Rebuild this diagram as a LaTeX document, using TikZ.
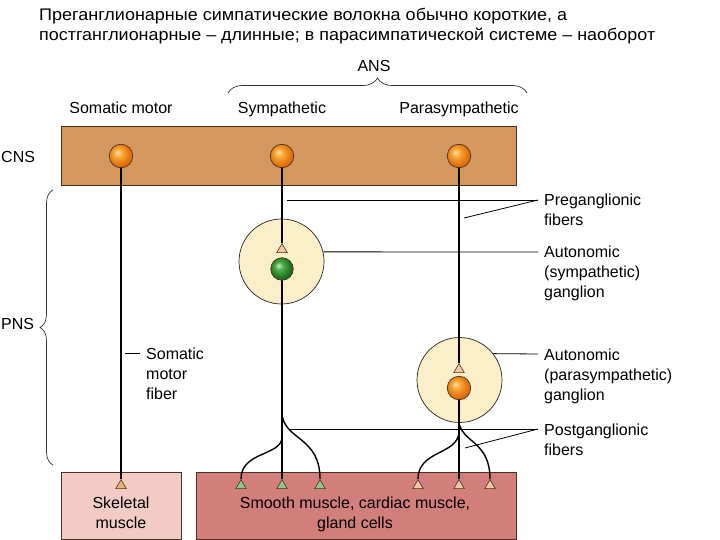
\documentclass[tikz,border=0pt]{standalone}
\usepackage{fontspec}
\setmainfont{Liberation Sans}
\usepackage{graphicx}
\usetikzlibrary{shapes.geometric,decorations.pathreplacing}
\pgfdeclarelayer{bg}
\pgfdeclarelayer{mid}
\pgfsetlayers{bg,mid,main}
\definecolor{cnsbox}{HTML}{D4975E}
\definecolor{skelbox}{HTML}{F2CBC5}
\definecolor{smoothbox}{HTML}{D27E7B}
\definecolor{gangfill}{HTML}{FBEFC9}
\definecolor{orA}{HTML}{FFE2A8}
\definecolor{orB}{HTML}{F8A83A}
\definecolor{orC}{HTML}{EC8418}
\definecolor{orD}{HTML}{D86E10}
\definecolor{grA}{HTML}{C8F0C0}
\definecolor{grB}{HTML}{4FAE4C}
\definecolor{grC}{HTML}{2C8A2C}
\definecolor{grD}{HTML}{1E6A1E}
\definecolor{tripeach}{HTML}{F4C8A0}
\definecolor{trigreen}{HTML}{8CC48A}
\definecolor{tritan}{HTML}{E8B46A}
\definecolor{edgec}{HTML}{4A3020}
\pgfdeclareradialshading{orball}{\pgfpoint{-8bp}{8bp}}{color(0bp)=(orA); color(9bp)=(orB); color(18bp)=(orC); color(25bp)=(orD); color(50bp)=(orD)}
\pgfdeclareradialshading{grball}{\pgfpoint{-8bp}{8bp}}{color(0bp)=(grA); color(9bp)=(grB); color(18bp)=(grC); color(25bp)=(grD); color(50bp)=(grD)}
\tikzset{
  lbl/.style={font=\fontsize{16}{20}\selectfont, inner sep=0pt, align=left, anchor=north west},
  clbl/.style={font=\fontsize{16}{20}\selectfont, inner sep=0pt, align=center, anchor=north},
  hdr/.style={font=\fontsize{16}{20}\selectfont, inner sep=0pt, anchor=base},
  ttl/.style={font=\fontsize{16.8}{17}\selectfont, inner sep=0pt, anchor=base west},
  neuron/.style={circle, draw=edgec, line width=0.7pt, minimum size=23.5pt, inner sep=0pt, shading=orball},
  gneuron/.style={neuron, minimum size=22.5pt, shading=grball},
  gang/.style={circle, draw=black!85, fill=gangfill, minimum size=85pt, inner sep=0pt, line width=0.7pt},
  term/.style={isosceles triangle, isosceles triangle apex angle=60, shape border rotate=90,
    draw=edgec, line width=0.6pt, minimum height=9pt, minimum width=10.5pt, inner sep=0pt,
    isosceles triangle stretches, anchor=apex},
  fiber/.style={line width=1.4pt, black},
  sfiber/.style={line width=1.7pt, black},
  lead/.style={line width=0.8pt, black},
  box/.style={draw=edgec, line width=0.8pt, anchor=north west, inner sep=0pt},
  bracec/.style={decorate, line width=0.7pt, black!80}
}
\begin{document}
\begin{tikzpicture}[x=1pt,y=-1pt]
\useasboundingbox (0,0) rectangle (720,540);

% title
\node[ttl] (t1) at (39,21) {\resizebox{528pt}{\height}{Преганглионарные симпатические волокна обычно короткие, а}};
\node[ttl] (t2) at (39,41) {\resizebox{616pt}{\height}{постганглионарные – длинные; в парасимпатической системе – наоборот}};

% headers
\node[hdr] (ans) at (374,72) {ANS};
\node[hdr] (hsom) at (121,114) {Somatic motor};
\node[hdr] (hsym) at (282,114) {Sympathetic};
\node[hdr] (hpar) at (459,114) {Parasympathetic};
\node[hdr, anchor=base west] (cns) at (1,162.5) {CNS};
\node[hdr, anchor=base west] (pns) at (1,329.5) {PNS};

% braces
\coordinate (ab1) at (228,93);
\coordinate (ab2) at (527,93);
\draw[bracec, decoration={brace, amplitude=15pt}] (ab1) -- (ab2);
\coordinate (pb1) at (53,465);
\coordinate (pb2) at (53,190);
\draw[bracec, decoration={brace, amplitude=13pt}] (pb1) -- (pb2);

% boxes
\begin{pgfonlayer}{bg}
\node[box, fill=cnsbox, minimum width=454.5pt, minimum height=58.5pt] (cnsb) at (61,126.5) {};
\node[box, fill=skelbox, minimum width=120pt, minimum height=67pt] (skb) at (61,472) {};
\node[box, fill=smoothbox, minimum width=319.5pt, minimum height=67pt] (smb) at (196,472) {};
\node[gang] (g1) at (281.5,261.5) {};
\node[gang] (g2) at (459.5,380) {};
\end{pgfonlayer}

% neurons
\node[neuron] (n1) at (121,156) {};
\node[neuron] (n2) at (282,156) {};
\node[neuron] (n3) at (459,156) {};
\node[gneuron] (ng) at (282,269) {};
\node[neuron] (np) at (459,388) {};

% terminals
\node[term, fill=tripeach] (tg) at (282,243) {};
\node[term, fill=tripeach] (tp) at (459,363) {};
\node[term, fill=tritan] (ts) at (121,479) {};
\node[term, fill=trigreen] (ta1) at (241,479) {};
\node[term, fill=trigreen] (ta2) at (282,479) {};
\node[term, fill=trigreen] (ta3) at (320,479) {};
\node[term, fill=tripeach] (tb1) at (418,479) {};
\node[term, fill=tripeach] (tb2) at (459,479) {};
\node[term, fill=tripeach] (tb3) at (490,479) {};

% fibers
\begin{pgfonlayer}{mid}
\draw[sfiber] (n1.center) -- (ts.apex);
\draw[fiber] (n2.center) -- (tg.apex);
\draw[fiber] (ng.center) -- (ta2.apex);
\draw[fiber] (n3.center) -- (tp.apex);
\draw[fiber] (np.center) -- (tb2.apex);
\coordinate (sbl) at (282,437);
\coordinate (sbr) at (282.5,417);
\coordinate (pbl) at (459,432);
\coordinate (pbr) at (459.5,425);
\draw[fiber] (sbl) .. controls (282,456) and (241,451) .. (ta1.apex);
\draw[fiber] (sbr) .. controls (287,440) and (320,438) .. (ta3.apex);
\draw[fiber] (pbl) .. controls (458,455) and (418,450) .. (tb1.apex);
\draw[fiber] (pbr) .. controls (465,443) and (490,443) .. (tb3.apex);
\end{pgfonlayer}

% side labels
\node[lbl] (lpre) at (544,193.5) {Preganglionic\\fibers};
\node[lbl] (lsym) at (544,245.3) {Autonomic\\(sympathetic)\\ganglion};
\node[lbl] (lpar) at (544,348.3) {Autonomic\\(parasympathetic)\\ganglion};
\node[lbl] (lpost) at (544,423.8) {Postganglionic\\fibers};
\node[lbl] (lsom) at (146,347.5) {Somatic\\motor\\fiber};
\node[clbl] (lskel) at (121,496.3) {Skeletal\\muscle};
\node[clbl] (lsmooth) at (355,496.3) {Smooth muscle, cardiac muscle,\\gland cells};

% leaders
\coordinate (cpre) at (538,200);
\coordinate (pre1) at (287,200);
\coordinate (pre2) at (464,218);
\draw[lead] (pre1) -- (cpre);
\draw[lead] (pre2) -- (cpre);
\coordinate (csym) at (538,252);
\draw[lead] (g1.13) -- (csym);
\coordinate (cpar) at (538,354);
\draw[lead] (g2.38) -- (cpar);
\coordinate (cpost) at (538,429);
\coordinate (post1) at (290,429);
\coordinate (post2) at (465,448);
\draw[lead] (post1) -- (cpost);
\draw[lead] (post2) -- (cpost);
\coordinate (csom1) at (125,353);
\coordinate (csom2) at (140,353);
\draw[lead] (csom1) -- (csom2);
\end{tikzpicture}
\end{document}
